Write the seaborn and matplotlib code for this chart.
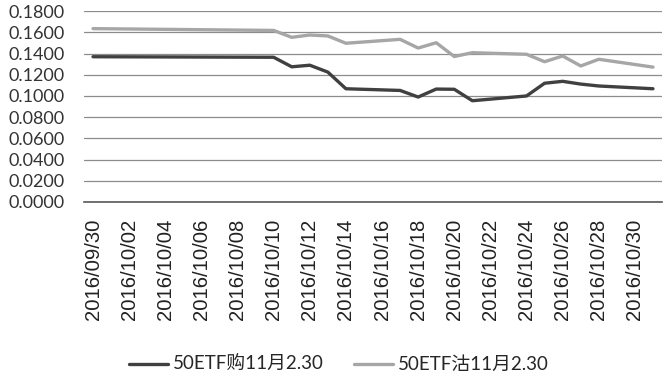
import matplotlib
matplotlib.use("Agg")
import matplotlib.pyplot as plt
import seaborn as sns
import pandas as pd

dates = ["2016-09-30", "2016-10-10", "2016-10-11", "2016-10-12", "2016-10-13",
         "2016-10-14", "2016-10-17", "2016-10-18", "2016-10-19", "2016-10-20",
         "2016-10-21", "2016-10-24", "2016-10-25", "2016-10-26", "2016-10-27",
         "2016-10-28", "2016-10-31"]
call_vals = [0.1370, 0.1365, 0.1275, 0.1290, 0.1225, 0.1068, 0.1052, 0.0990,
             0.1065, 0.1063, 0.0955, 0.1000, 0.1120, 0.1138, 0.1112, 0.1094, 0.1068]
put_vals = [0.1635, 0.1618, 0.1553, 0.1575, 0.1566, 0.1497, 0.1534, 0.1452,
            0.1502, 0.1372, 0.1408, 0.1393, 0.1323, 0.1377, 0.1283, 0.1346, 0.1272]
series_names = ["50ETF购11月2.30", "50ETF沽11月2.30"]
series_colors = ["#404040", "#a6a6a6"]
y_ticks = [0.0, 0.02, 0.04, 0.06, 0.08, 0.10, 0.12, 0.14, 0.16, 0.18]

df = pd.DataFrame({
    "date": pd.to_datetime(dates * 2),
    "value": call_vals + put_vals,
    "series": [series_names[0]] * len(dates) + [series_names[1]] * len(dates),
})

sns.set_style("white")
plt.rcParams["font.family"] = ["Lato", "Noto Sans CJK SC", "DejaVu Sans"]

fig = plt.figure(figsize=(6.64, 3.84), dpi=100)
ax = fig.add_axes([0.1265, 0.474, 0.8705, 0.497])

sns.lineplot(data=df, x="date", y="value", hue="series", palette=series_colors,
             hue_order=series_names, linewidth=2.4, ax=ax, legend=True)

ax.set_xlim(pd.Timestamp("2016-09-29 12:00"), pd.Timestamp("2016-10-31 12:00"))
ax.set_ylim(0, 0.18)
ax.set_yticks(y_ticks)
ax.set_yticklabels([f"{v:.4f}" for v in y_ticks], fontsize=13, color="#333333")
ax.yaxis.grid(True, color="#8c8c8c", linewidth=0.9)
ax.xaxis.grid(False)

tick_dates = pd.date_range("2016-09-30", "2016-10-30", freq="2D")
ax.set_xticks(tick_dates)
ax.set_xticklabels([d.strftime("%Y/%m/%d") for d in tick_dates], rotation=90,
                   fontsize=14.6, family="Liberation Sans", color="#222222")
ax.tick_params(axis="x", length=0, pad=12)
ax.tick_params(axis="y", length=0, pad=14)

for s in ["top", "right", "left"]:
    ax.spines[s].set_visible(False)
ax.spines["bottom"].set_color("#595959")
ax.spines["bottom"].set_linewidth(1.2)

ax.set_xlabel("")
ax.set_ylabel("")

handles, labels = ax.get_legend_handles_labels()
ax.get_legend().remove()
fig.legend(handles, labels, loc="center", bbox_to_anchor=(0.51, 0.05), ncol=2,
           frameon=False, fontsize=13.5, handlelength=2.1, handletextpad=0.25,
           columnspacing=1.6)

fig.savefig("out.png", dpi=100)
